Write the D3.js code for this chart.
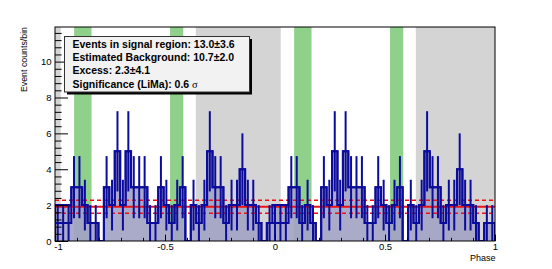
<!DOCTYPE html>
<html>
<head>
<meta charset="utf-8">
<script src="https://cdn.jsdelivr.net/npm/d3@7"></script>
<style>
  body { margin: 0; background: #fff; }
  svg { display: block; }
</style>
</head>
<body>
<div id="chart"></div>
<script>
'use strict';

// phaseogram, 81 bins on [-1, 1] (same cycle shown twice)
const phaseMin = -1, phaseMax = 1, nBins = 81;
const counts = [
  1,1,1,3,3,2,1,1,0,3, 2,5,2,5,3,3,3,1,1,3, 2,1,2,3,0,2,1,2,5,3, 3,1,2,2,4,2,2,1,0,1,
  1,1,1,3,3,1,2,1,0,3, 2,5,2,5,3,3,3,1,1,3, 2,1,2,3,0,2,1,2,5,3, 3,1,2,2,4,2,2,1,0,1,
  1
];
// shaded copy, differs only in the first bins of each cycle
const shadeCounts = counts.map((c, i) => (i < 3 || (i >= 40 && i < 43)) ? 2 : c);

const signalRegions = [[0.087, 0.166], [0.523, 0.583]];
const bgRegions = [[0.64, 1.026]];
const bgLevel = 1.91, bgErr = 0.36;

const yTicks = [0, 2, 4, 6, 8, 10];
const xTicks = [-1, -0.5, 0, 0.5, 1];
const statLines = [
  "Events in signal region: 13.0\u00b13.6",
  "Estimated Background: 10.7\u00b12.0",
  "Excess: 2.3\u00b14.1",
  "Significance (LiMa): 0.6 "
];

const font = "'Liberation Sans', Arial, Helvetica, sans-serif";
const blue = "#0c0c9c";

let width = 552, height = 269;
let frame = {left: 55, right: 495, top: 27, bottom: 241};

let x = d3.scaleLinear().domain([phaseMin, phaseMax]).range([frame.left, frame.right]);
let y = d3.scaleLinear().domain([0, 11.93]).range([frame.bottom, frame.top]);

let svg = d3.select("#chart").append("svg")
  .attr("width", width)
  .attr("height", height);

svg.append("defs").append("clipPath").attr("id", "frameClip")
  .append("rect")
  .attr("x", frame.left).attr("y", frame.top)
  .attr("width", frame.right - frame.left).attr("height", frame.bottom - frame.top);

let plot = svg.append("g").attr("clip-path", "url(#frameClip)");

// phase bands repeated for every cycle in view
function bands(regions) {
  let out = [];
  regions.forEach(r => {
    [-2, -1, 0].forEach(s => {
      let a = Math.max(r[0] + s, phaseMin), b = Math.min(r[1] + s, phaseMax);
      if (b > a) out.push([a, b]);
    });
  });
  return out;
}

plot.selectAll("rect.bg")
  .data(bands(bgRegions))
  .enter().append("rect")
  .attr("class", "bg")
  .attr("x", d => x(d[0]))
  .attr("y", frame.top)
  .attr("width", d => x(d[1]) - x(d[0]))
  .attr("height", frame.bottom - frame.top)
  .style("fill", "#d4d4d4");

plot.selectAll("rect.sig")
  .data(bands(signalRegions))
  .enter().append("rect")
  .attr("class", "sig")
  .attr("x", d => x(d[0]))
  .attr("y", frame.top)
  .attr("width", d => x(d[1]) - x(d[0]))
  .attr("height", frame.bottom - frame.top)
  .style("fill", "#8fd18a");

const binW = (phaseMax - phaseMin) / nBins;
function stepPoints(arr) {
  let pts = arr.map((c, i) => [phaseMin + i * binW, c]);
  pts.push([phaseMax, arr[arr.length - 1]]);
  return pts;
}
function outlinePoints(arr) {
  return [[phaseMin, 0]].concat(stepPoints(arr), [[phaseMax, 0]]);
}

let area = d3.area()
  .x(d => x(d[0]))
  .y0(y(0))
  .y1(d => y(d[1]))
  .curve(d3.curveStepAfter);

let line = d3.line()
  .x(d => x(d[0]))
  .y(d => y(d[1]))
  .curve(d3.curveStepAfter);

plot.append("path")
  .datum(stepPoints(shadeCounts))
  .attr("d", area)
  .style("fill", "#a3a3c4")
  .style("opacity", 0.92);

// background level and its error
plot.selectAll("line.bgl")
  .data([bgLevel - bgErr, bgLevel, bgLevel + bgErr])
  .enter().append("line")
  .attr("class", "bgl")
  .attr("x1", frame.left).attr("x2", frame.right)
  .attr("y1", d => y(d)).attr("y2", d => y(d))
  .style("stroke", "#ee1111")
  .style("stroke-width", (d, i) => i == 1 ? 2.2 : 1.6)
  .style("stroke-dasharray", (d, i) => i == 1 ? null : "4,3");

plot.append("path")
  .datum(outlinePoints(shadeCounts))
  .attr("d", line)
  .style("fill", "none")
  .style("stroke", blue)
  .style("stroke-width", 2);

plot.append("path")
  .datum(outlinePoints(counts))
  .attr("d", line)
  .style("fill", "none")
  .style("stroke", blue)
  .style("stroke-width", 2);

plot.selectAll("line.err")
  .data(counts.map((c, i) => ({c: c, i: i})).filter(d => d.c > 0))
  .enter().append("line")
  .attr("class", "err")
  .attr("x1", d => x(phaseMin + (d.i + 0.5) * binW))
  .attr("x2", d => x(phaseMin + (d.i + 0.5) * binW))
  .attr("y1", d => y(d.c - Math.sqrt(d.c)))
  .attr("y2", d => y(d.c + Math.sqrt(d.c)))
  .style("stroke", blue)
  .style("stroke-width", 2);

// frame
svg.append("rect")
  .attr("x", frame.left).attr("y", frame.top)
  .attr("width", frame.right - frame.left).attr("height", frame.bottom - frame.top)
  .style("fill", "none")
  .style("stroke", "#000")
  .style("stroke-width", 1);

// axes, ticks pointing inward like ROOT
let yMinor = d3.range(0, 30).filter(i => i % 5 != 0).map(i => i * 0.4).filter(v => v < 11.93);
let xMinor = d3.range(-10, 11).filter(i => i % 5 != 0).map(i => i / 10);

let yAxis = svg.append("g").attr("transform", "translate(" + frame.left + ",0)")
  .call(d3.axisLeft(y).tickValues(yTicks).tickSizeInner(-13).tickSizeOuter(0)
    .tickPadding(3.5).tickFormat(d3.format("d")));
svg.append("g").attr("transform", "translate(" + frame.left + ",0)")
  .call(d3.axisLeft(y).tickValues(yMinor).tickSizeInner(-6.6).tickSizeOuter(0).tickFormat(""));

let xAxis = svg.append("g").attr("transform", "translate(0," + frame.bottom + ")")
  .call(d3.axisBottom(x).tickValues(xTicks).tickSizeInner(-6.4).tickSizeOuter(0)
    .tickPadding(2.5).tickFormat(d => String(d)));
svg.append("g").attr("transform", "translate(0," + frame.bottom + ")")
  .call(d3.axisBottom(x).tickValues(xMinor).tickSizeInner(-3.2).tickSizeOuter(0).tickFormat(""));

svg.selectAll(".domain").remove();
svg.selectAll(".tick text")
  .style("font-family", font)
  .style("font-size", "9.5px")
  .style("fill", "#000");
xAxis.selectAll(".tick text").filter(d => d == -1).attr("dx", 3);

svg.append("text")
  .attr("transform", "translate(26.5," + frame.top + ") rotate(-90)")
  .attr("text-anchor", "end")
  .style("font-family", font)
  .style("font-size", "8.8px")
  .text("Event counts/bin");

svg.append("text")
  .attr("x", frame.right + 0.5)
  .attr("y", 260.5)
  .attr("text-anchor", "end")
  .style("font-family", font)
  .style("font-size", "9px")
  .text("Phase");

// stats box with ROOT style shadow
let box = {x: 64.5, y: 36.5, w: 185, h: 55.5};
svg.append("rect")
  .attr("x", box.x + 2.5).attr("y", box.y + 2.5)
  .attr("width", box.w).attr("height", box.h)
  .style("fill", "#000");
svg.append("rect")
  .attr("x", box.x).attr("y", box.y)
  .attr("width", box.w).attr("height", box.h)
  .style("fill", "#f2f2f2")
  .style("stroke", "#333")
  .style("stroke-width", 1);

let stats = svg.append("g").selectAll("text")
  .data(statLines)
  .enter().append("text")
  .attr("x", 72.5)
  .attr("y", (d, i) => 47.8 + i * 13.3)
  .style("font-family", font)
  .style("font-size", "10.5px")
  .style("font-weight", "bold")
  .text(d => d);

stats.filter((d, i) => i == 3).append("tspan")
  .style("font-family", "'Liberation Serif', 'DejaVu Serif', serif")
  .style("font-weight", "normal")
  .text("\u03c3");
</script>
</body>
</html>
